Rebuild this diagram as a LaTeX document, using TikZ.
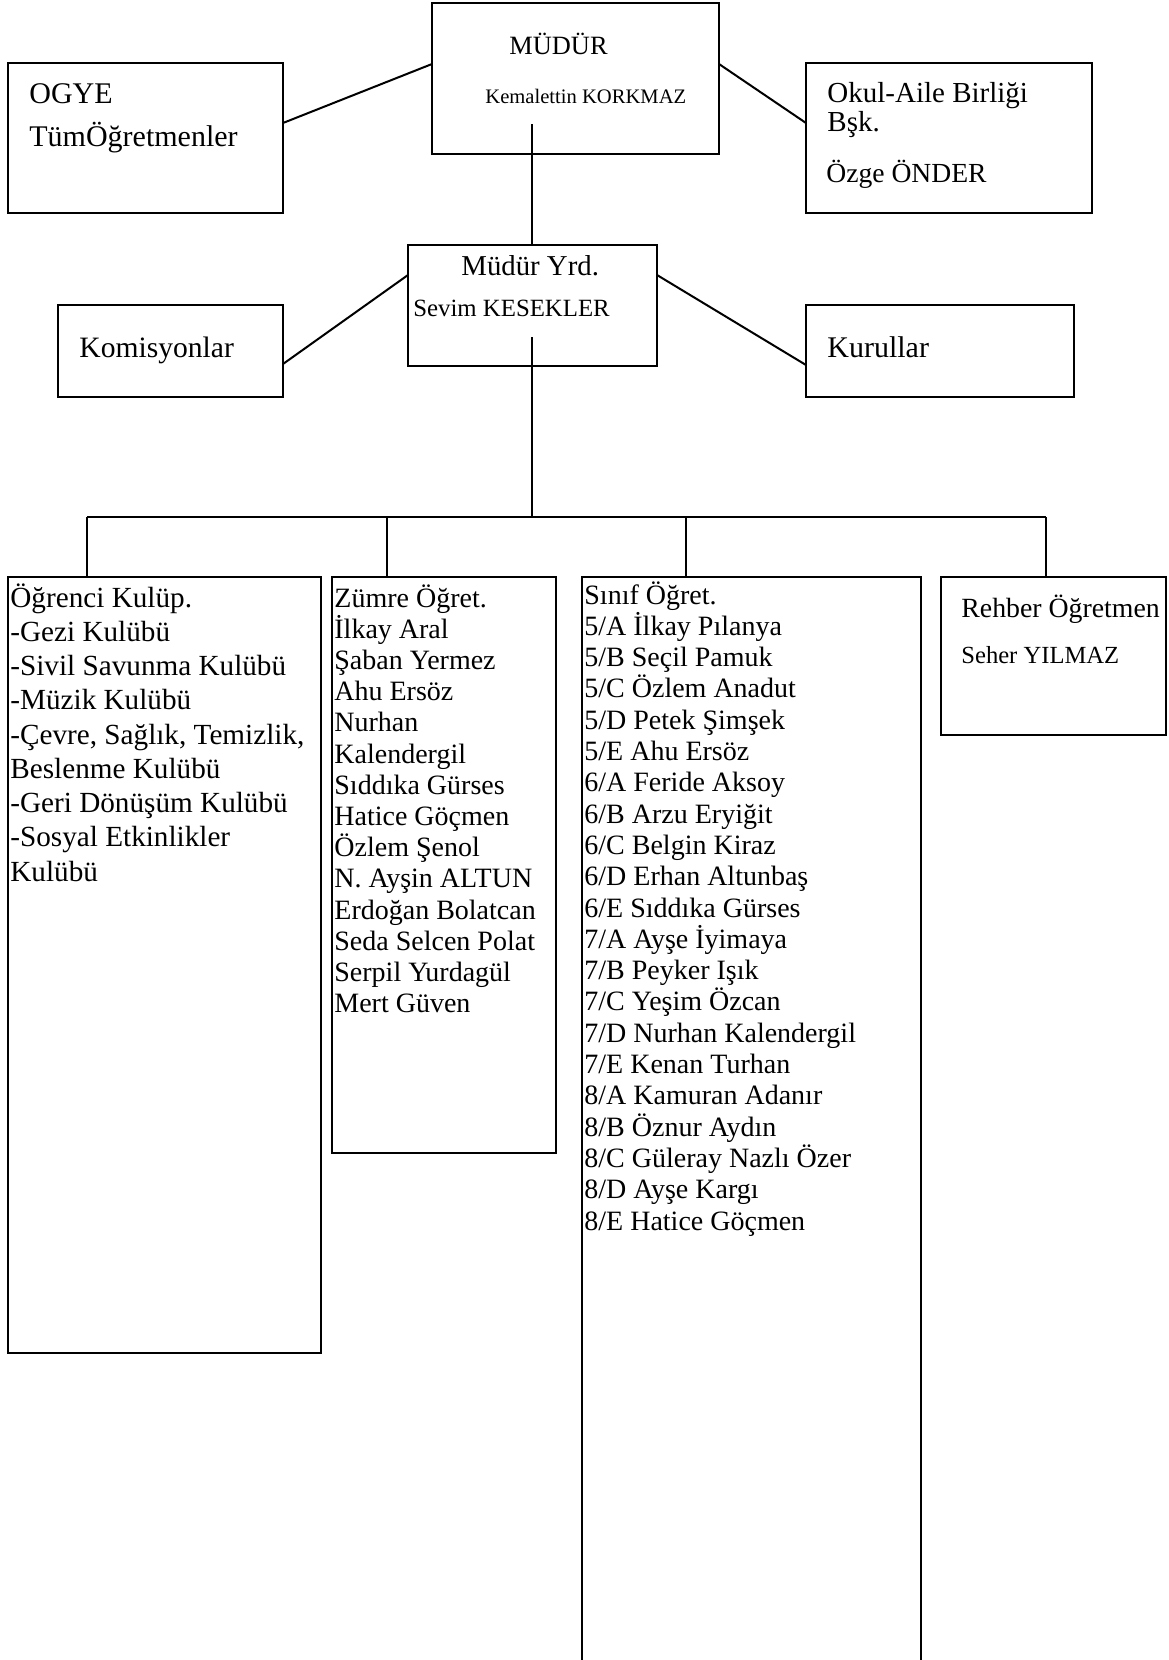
\documentclass[tikz,border=0pt]{standalone}
\usepackage{fontspec}
\setmainfont{Liberation Serif}
\usetikzlibrary{positioning}
\usetikzlibrary{calc}
\newcommand{\txtsize}[2]{\fontsize{#1}{#2}\selectfont}

\begin{document}
\begin{tikzpicture}[x=0.5pt, y=-0.5pt,
  box/.style 2 args={draw, line width=1pt, inner sep=0pt, outer sep=0pt,
    anchor=north west, minimum width=#1*0.5pt, minimum height=#2*0.5pt},
  txt/.style={anchor=base west, inner sep=0pt},
  link/.style={line width=1pt}]
\useasboundingbox (0,0) rectangle (1168,1660);
% Boxes
\node[box={287}{151}] (mudur) at (432,3) {};
\node[box={275}{150}] (ogye) at (8,63) {};
\node[box={286}{150}] (veli) at (806,63) {};
\node[box={249}{121}] (yrd) at (408,245) {};
\node[box={225}{92}] (komisyon) at (58,305) {};
\node[box={268}{92}] (kurul) at (806,305) {};
\node[box={313}{776}] (kulup) at (8,577) {};
\node[box={224}{576}] (zumre) at (332,577) {};
\node[box={339}{1086}] (sinif) at (582,577) {};
\node[box={225}{158}] (rehber) at (941,577) {};
% Texts
\node[txt, font=\txtsize{13.2}{15}] (mudurA) at (509,54) {MÜDÜR};
\node[txt, font=\txtsize{10.3}{12}] (mudurB) at (485,103) {Kemalettin KORKMAZ};
\node[txt, font=\txtsize{15}{17}] (ogyeA) at (29,103) {OGYE};
\node[txt, font=\txtsize{15}{17}] (ogyeB) at (29,146) {TümÖğretmenler};
\node[txt, font=\txtsize{14.5}{16}] (veliA) at (827,102) {Okul-Aile Birliği};
\node[txt, font=\txtsize{14.5}{16}] (veliB) at (827,131) {Bşk.};
\node[txt, font=\txtsize{13.8}{16}] (veliC) at (826,182) {Özge ÖNDER};
\node[txt, font=\txtsize{14.4}{16}] (yrdA) at (461,275) {Müdür Yrd.};
\node[txt, font=\txtsize{12.4}{14}] (yrdB) at (413,316) {Sevim KESEKLER};
\node[txt, font=\txtsize{14.8}{17}] (komisyonA) at (79,357) {Komisyonlar};
\node[txt, font=\txtsize{15}{17}] (kurulA) at (827,357) {Kurullar};
\node[txt, font=\txtsize{13.9}{16}] (rehberA) at (961,617) {Rehber Öğretmen};
\node[txt, font=\txtsize{12.3}{14}] (rehberB) at (961,663) {Seher YILMAZ};
% Lists
\foreach \t [count=\i from 0] in {Öğrenci Kulüp., -Gezi Kulübü,
    -Sivil Savunma Kulübü, -Müzik Kulübü, {-Çevre, Sağlık, Temizlik,},
    Beslenme Kulübü, -Geri Dönüşüm Kulübü, -Sosyal Etkinlikler, Kulübü}
  \node[txt, font=\txtsize{14.6}{17}] (kulup\i) at (10,{607+34.25*\i}) {\t};
\foreach \t [count=\i from 0] in {Zümre Öğret., İlkay Aral, Şaban Yermez,
    Ahu Ersöz, Nurhan, Kalendergil, Sıddıka Gürses, Hatice Göçmen,
    Özlem Şenol, N. Ayşin ALTUN, Erdoğan Bolatcan, Seda Selcen Polat,
    Serpil Yurdagül, Mert Güven}
  \node[txt, font=\txtsize{14}{16}] (zumre\i) at (334,{607+31.2*\i}) {\t};
\foreach \t [count=\i from 0] in {Sınıf Öğret., 5/A İlkay Pılanya,
    5/B Seçil Pamuk, 5/C Özlem Anadut, 5/D Petek Şimşek, 5/E Ahu Ersöz,
    6/A Feride Aksoy, 6/B Arzu Eryiğit, 6/C Belgin Kiraz,
    6/D Erhan Altunbaş, 6/E Sıddıka Gürses, 7/A Ayşe İyimaya,
    7/B Peyker Işık, 7/C Yeşim Özcan, 7/D Nurhan Kalendergil,
    7/E Kenan Turhan, 8/A Kamuran Adanır, 8/B Öznur Aydın,
    8/C Güleray Nazlı Özer, 8/D Ayşe Kargı, 8/E Hatice Göçmen}
  \node[txt, font=\txtsize{14}{16}] (sinif\i) at (584,{604+31.3*\i}) {\t};
% Links
\coordinate (mtail) at (532,124);
\coordinate (ytail) at (532,337);
\coordinate (bus) at (532,517);
\draw[link] ($(ogye.east)+(0,-15)$) -- ($(mudur.west)+(0,-14.5)$);
\draw[link] ($(mudur.east)+(0,-14.5)$) -- ($(veli.west)+(0,-15)$);
\draw[link] ($(komisyon.east)+(0,13)$) -- ($(yrd.west)+(0,-30.5)$);
\draw[link] ($(yrd.east)+(0,-30.5)$) -- ($(kurul.west)+(0,14)$);
\draw[link] (mtail) -- (mtail |- yrd.north);
\draw[link] (ytail) -- (bus);
\draw[link] ($(kulup.north west)+(79,-60)$) -- ($(rehber.north west)+(105,-60)$);
\foreach \b/\dx in {kulup/79, zumre/55, sinif/104, rehber/105}
  \draw[link] ($(\b.north west)+(\dx,0)$) -- ++(0,-60);
\end{tikzpicture}
\end{document}
